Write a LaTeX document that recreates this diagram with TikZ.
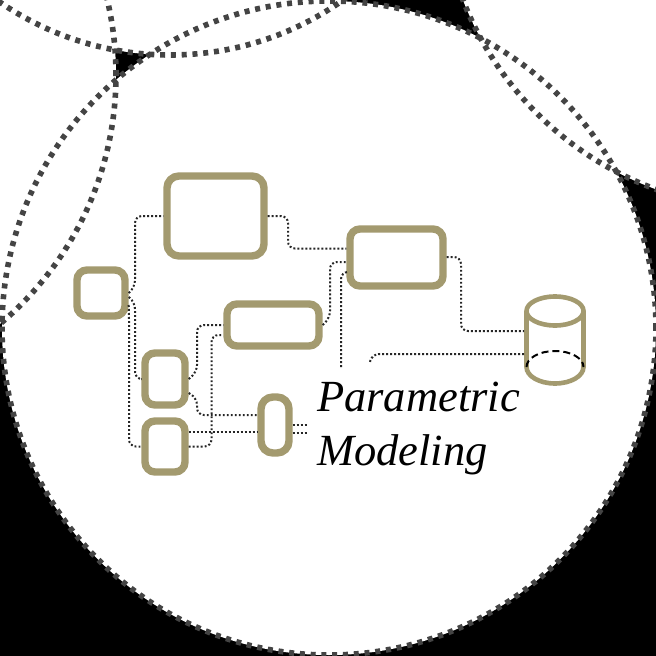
\documentclass[tikz,border=0pt]{standalone}
\usepackage{fontspec}
\setmainfont{Liberation Serif}
\usetikzlibrary{calc}
\definecolor{khaki}{HTML}{A39A6F}
\definecolor{ringgrey}{HTML}{444444}
\tikzset{
  ring/.style={draw=ringgrey,line width=5.6pt,dash pattern=on 5pt off 5.8pt},
  blockbox/.style={draw=khaki,line width=7.4pt,rounded corners=#1,inner sep=0pt,outer sep=3.7pt,fill=white},
  blockbox/.default=10pt,
  wire/.style={draw=black!85,line width=2pt,dash pattern=on 1.9pt off 2.1pt,rounded corners=7pt},
  cylline/.style={draw=khaki,line width=4.6pt},
  label/.style={inner sep=0pt,align=left,anchor=north west,font=\fontsize{44.5}{54}\selectfont\itshape}
}
\begin{document}
\begin{tikzpicture}[x=1pt,y=-1pt]
\clip (0,0) rectangle (656,656);
\fill[black] (0,0) rectangle (656,656);
% rings
\fill[white] (329,328) circle[radius=327pt];
\fill[white] (-209,75) circle[radius=325pt];
\fill[white] (170,-245) circle[radius=300pt];
\fill[white] (768,-118) circle[radius=327pt];
\draw[ring] (-209,75) circle[radius=325pt];
\draw[ring] (170,-245) circle[radius=300pt];
\draw[ring] (768,-118) circle[radius=327pt];
\draw[ring] (329,328) circle[radius=327pt];
% blocks
\node[blockbox=12pt,minimum width=97pt,minimum height=80pt] (big) at (215.5,216) {};
\node[blockbox,minimum width=48pt,minimum height=46pt] (small) at (101,293) {};
\node[blockbox,minimum width=92pt,minimum height=42pt] (mid) at (273,325) {};
\node[blockbox,minimum width=40pt,minimum height=52pt] (upper) at (165,379) {};
\node[blockbox,minimum width=40pt,minimum height=51pt] (lower) at (165,446.5) {};
\node[blockbox=12pt,minimum width=28pt,minimum height=56pt] (pill) at (275,425) {};
\node[blockbox,minimum width=93pt,minimum height=57pt] (right) at (396.5,257.5) {};
% cylinder
\node[minimum width=62pt,minimum height=92pt,inner sep=0pt,outer sep=0pt] (db) at (555,340) {};
\draw[cylline] (555,311) ellipse[x radius=28.5pt,y radius=14.5pt];
\draw[cylline] (526.5,311) -- (526.5,367) arc[start angle=180,end angle=360,x radius=28.5pt,y radius=16.5pt] -- (583.5,311);
\draw[black,line width=2pt,dash pattern=on 7pt off 4pt] (526.5,367) arc[start angle=180,end angle=0,x radius=28.5pt,y radius=16pt];
% free ends
\coordinate (stubA) at (341,367);
\coordinate (stubB) at (370,362);
\coordinate (stubC) at (308,425);
\coordinate (stubD) at (308,433);
% connectors
\draw[wire] (small.east) -- (135,287) -- (135,216) -- (big.west);
\draw[wire] (big.east) -- (288,216) -- (288,248.5) -- ($(right.west)+(0,-9)$);
\draw[wire] ($(small.east)+(0,4)$) -- (135,302) -- (135,379) -- (upper.west);
\draw[wire] ($(small.east)+(0,12)$) -- (129,312) -- (129,446.5) -- (lower.west);
\draw[wire] (upper.east) -- (197,372) -- (197,325) -- (mid.west);
\draw[wire] ($(upper.east)+(0,14)$) -- (197,398) -- (197,415) -- ($(pill.west)+(0,-10)$);
\draw[wire] ($(lower.east)+(0,-14.5)$) -- ($(pill.west)+(0,7)$);
\draw[wire] (lower.east) -- (211.5,446.5) -- (211.5,335) -- ($(mid.west)+(0,10)$);
\draw[wire] (mid.east) -- (330,318) -- (330,262) -- ($(right.west)+(0,4.5)$);
\draw[wire] (stubA) -- (341,272) -- ($(right.west)+(0,14.5)$);
\draw[wire] ($(right.east)+(0,-0.5)$) -- (461,257) -- (461,331) -- ($(db.west)+(0,-9)$);
\draw[wire] ($(db.west)+(0,14)$) -- (372,354) -- (stubB);
\draw[wire] (pill.east) -- (stubC);
\draw[wire] ($(pill.east)+(0,8)$) -- (stubD);
% label
\node[label] (title) at (317,382) {Parametric\\Modeling};
\end{tikzpicture}
\end{document}
